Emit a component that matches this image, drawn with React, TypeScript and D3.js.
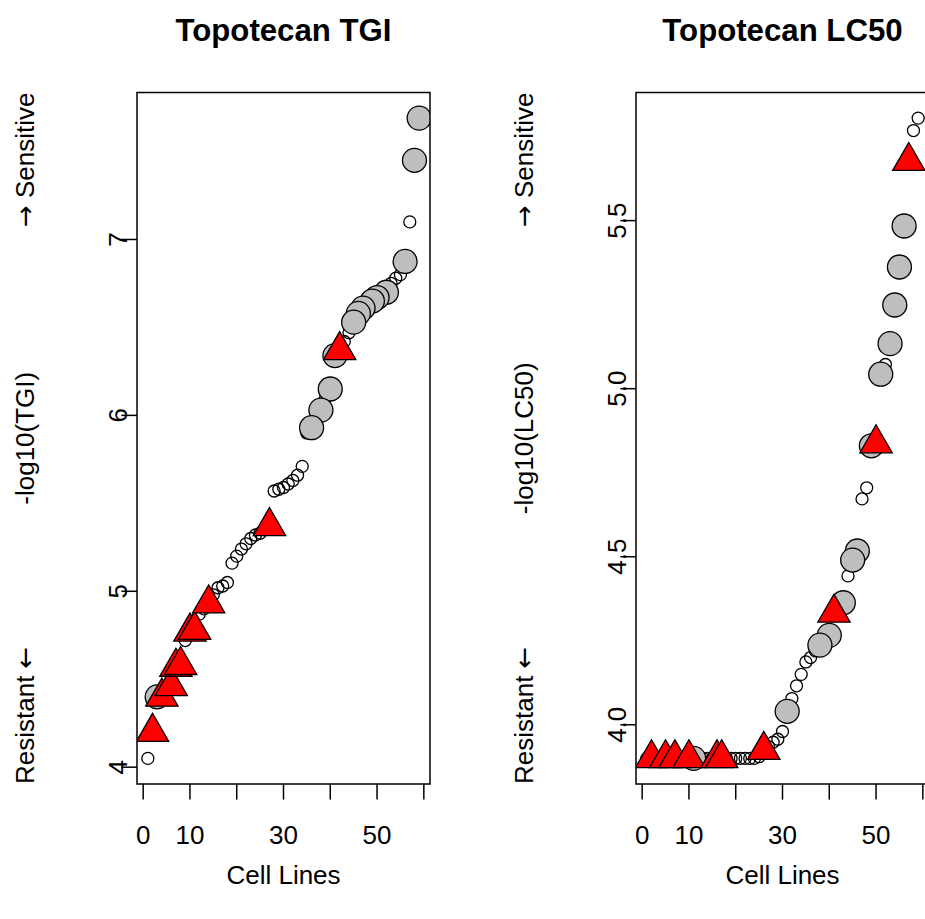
import React from "react";
import * as d3 from "d3";

// ---- Data (sorted responses, x = rank of cell line) ----
const tgiValues: number[] = [
  4.05, 4.2, 4.4, 4.4, 4.43, 4.46, 4.57, 4.58, 4.72, 4.77, 4.78, 4.87, 4.9, 4.93, 4.98, 5.02,
  5.03, 5.05, 5.16, 5.2, 5.24, 5.27, 5.3, 5.32, 5.33, 5.35, 5.37, 5.57, 5.58, 5.59, 5.61, 5.63,
  5.66, 5.71, 5.9, 5.93, 5.98, 6.03, 6.1, 6.15, 6.34, 6.37, 6.42, 6.47, 6.53, 6.58, 6.61, 6.63,
  6.65, 6.67, 6.68, 6.7, 6.75, 6.78, 6.8, 6.875, 7.1, 7.45, 7.69,
];
// s = open circle, g = grey circle, t = red triangle
const tgiTypes: string[] = [
  "s", "t", "g", "t", "s", "t", "t", "t", "s", "t", "t", "s", "s", "t", "s", "s",
  "s", "s", "s", "s", "s", "s", "s", "s", "s", "s", "t", "s", "s", "s", "s", "s",
  "s", "s", "s", "g", "s", "g", "s", "g", "g", "t", "s", "s", "g", "g", "g", "s",
  "g", "g", "s", "g", "s", "s", "s", "g", "s", "g", "g",
];

const lc50Values: number[] = [
  3.9, 3.9, 3.9, 3.9, 3.9, 3.9, 3.9, 3.9, 3.9, 3.9, 3.9, 3.9, 3.9, 3.9, 3.9, 3.9,
  3.9, 3.9, 3.9, 3.9, 3.9, 3.9, 3.9, 3.9, 3.905, 3.925, 3.935, 3.948, 3.957, 3.98, 4.04, 4.078,
  4.116, 4.15, 4.187, 4.2, 4.22, 4.237, 4.25, 4.266, 4.333, 4.34, 4.363, 4.443, 4.49, 4.517, 4.672, 4.705,
  4.83, 4.837, 5.043, 5.072, 5.134, 5.249, 5.362, 5.484, 5.677, 5.768, 5.805,
];
const lc50Types: string[] = [
  "s", "t", "s", "s", "t", "s", "t", "s", "s", "t", "g", "s", "s", "s", "s", "t",
  "t", "s", "s", "s", "s", "s", "s", "s", "s", "t", "s", "s", "s", "s", "g", "s",
  "s", "s", "s", "s", "s", "g", "s", "g", "t", "s", "g", "s", "g", "g", "s", "s",
  "g", "t", "g", "s", "g", "g", "g", "g", "t", "s", "s",
];

const xTicks: number[] = [0, 10, 20, 30, 40, 50, 60];
const xTickLabels: number[] = [0, 10, 30, 50];
const tgiYTicks: number[] = [4, 5, 6, 7];
const lc50YTicks: number[] = [4.0, 4.5, 5.0, 5.5];

const FONT = "'Liberation Sans', Arial, Helvetica, sans-serif";
const ARROW_FONT = "'DejaVu Sans', sans-serif";
const FS = 26;
const W = 925;
const H = 919;
const TOP = 92.5;
const BOTTOM = 784;
const PW = 293;

type PanelProps = {
  left: number;
  id: string;
  values: number[];
  types: string[];
  title: string;
  ylab: string;
  yTicks: number[];
  yFmt: (v: number) => string;
};

function Panel({ left, id, values, types, title, ylab, yTicks, yFmt }: PanelProps) {
  const n = values.length;
  const xp = 0.04 * (n - 1);
  const x = d3.scaleLinear().domain([1 - xp, n + xp]).range([left, left + PW]);
  const [mn, mx] = d3.extent(values) as [number, number];
  const yp = 0.04 * (mx - mn);
  const y = d3.scaleLinear().domain([mn - yp, mx + yp]).range([BOTTOM, TOP]);

  const pts = values.map((v, i) => ({ i: i + 1, v, t: types[i] }));
  const smalls = pts.filter((p) => p.t === "s");
  const greys = pts.filter((p) => p.t === "g").reverse();
  const tris = pts.filter((p) => p.t === "t");

  const R = 12 * 1.5551;
  const triPath = (cx: number, cy: number) => {
    const hx = (R * Math.sqrt(3)) / 2;
    return `M${cx},${cy - R}L${cx + hx},${cy + R / 2}L${cx - hx},${cy + R / 2}Z`;
  };

  const cx = left + PW / 2;
  const cy = (TOP + BOTTOM) / 2;
  const labX = left - 112;

  return (
    <g>
      <defs>
        <clipPath id={id}>
          <rect x={left} y={TOP} width={PW} height={BOTTOM - TOP} />
        </clipPath>
      </defs>
      <g clipPath={`url(#${id})`}>
        {smalls.map((p) => (
          <circle key={"s" + p.i} cx={x(p.i)} cy={y(p.v)} r={6} fill="none" stroke="#000" strokeWidth={1.3} />
        ))}
        {greys.map((p) => (
          <circle key={"g" + p.i} cx={x(p.i)} cy={y(p.v)} r={12} fill="#BEBEBE" stroke="#000" strokeWidth={1.3} />
        ))}
        {tris.map((p) => (
          <path key={"t" + p.i} d={triPath(x(p.i), y(p.v))} fill="#FF0000" stroke="#000" strokeWidth={1.3} strokeLinejoin="miter" />
        ))}
      </g>
      <rect x={left} y={TOP} width={PW} height={BOTTOM - TOP} fill="none" stroke="#000" strokeWidth={1.5} />
      {xTicks.map((t) => (
        <line key={"xt" + t} x1={x(t)} x2={x(t)} y1={BOTTOM} y2={BOTTOM + 15.6} stroke="#000" strokeWidth={1.5} />
      ))}
      {xTickLabels.map((t) => (
        <text key={"xl" + t} x={x(t)} y={844} textAnchor="middle" fontSize={FS} fontFamily={FONT}>
          {t}
        </text>
      ))}
      {yTicks.map((t) => (
        <line key={"yt" + t} x1={left - 15.6} x2={left} y1={y(t)} y2={y(t)} stroke="#000" strokeWidth={1.5} />
      ))}
      {yTicks.map((t) => (
        <text
          key={"yl" + t}
          transform={`translate(${left - 19},${y(t)}) rotate(-90)`}
          textAnchor="middle"
          dy="0.35em"
          fontSize={FS}
          fontFamily={FONT}
        >
          {yFmt(t)}
        </text>
      ))}
      <text x={cx} y={41} textAnchor="middle" fontSize={FS * 1.2} fontWeight="bold" fontFamily={FONT}>
        {title}
      </text>
      <text x={cx} y={884} textAnchor="middle" fontSize={FS} fontFamily={FONT}>
        Cell Lines
      </text>
      <text transform={`translate(${labX},${cy}) rotate(-90)`} textAnchor="middle" dy="0.35em" fontSize={FS} fontFamily={FONT}>
        {ylab}
      </text>
      <text transform={`translate(${labX},${BOTTOM}) rotate(-90)`} textAnchor="start" dy="0.35em" fontSize={FS} fontFamily={FONT}>
        Resistant <tspan fontFamily={ARROW_FONT}>←</tspan>
      </text>
      <text transform={`translate(${labX},${TOP}) rotate(-90)`} textAnchor="end" dy="0.35em" fontSize={FS} fontFamily={FONT}>
        <tspan fontFamily={ARROW_FONT}>→</tspan> Sensitive
      </text>
    </g>
  );
}

export default function App() {
  return (
    <svg
      width={W}
      height={H}
      viewBox={`0 0 ${W} ${H}`}
      style={{ position: "absolute", left: 0, top: 0, background: "#fff" }}
    >
      <rect x={0} y={0} width={W} height={H} fill="#fff" />
      <Panel
        left={137}
        id="clipL"
        values={tgiValues}
        types={tgiTypes}
        title="Topotecan TGI"
        ylab="-log10(TGI)"
        yTicks={tgiYTicks}
        yFmt={(v) => String(v)}
      />
      <Panel
        left={636}
        id="clipR"
        values={lc50Values}
        types={lc50Types}
        title="Topotecan LC50"
        ylab="-log10(LC50)"
        yTicks={lc50YTicks}
        yFmt={(v) => v.toFixed(1)}
      />
    </svg>
  );
}
